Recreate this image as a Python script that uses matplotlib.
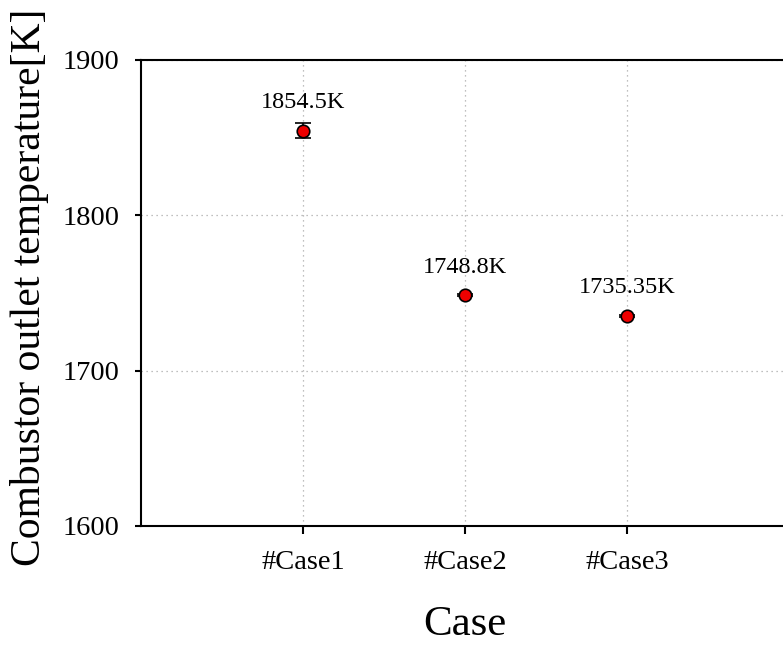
import matplotlib
matplotlib.use("Agg")
import matplotlib.pyplot as plt

cases = ["#Case1", "#Case2", "#Case3"]
temps = [1854.5, 1748.8, 1735.35]
errors = [5.0, 0.8, 0.5]
labels = ["1854.5K", "1748.8K", "1735.35K"]
yticks = [1600, 1700, 1800, 1900]

plt.rcParams["font.family"] = ["Liberation Serif", "DejaVu Serif"]

fig = plt.figure(figsize=(7.83, 6.45), dpi=100)
ax = fig.add_axes([0.180, 0.1845, 0.8276, 0.7225])

xs = list(range(1, len(cases) + 1))
ax.errorbar(xs, temps, yerr=errors, fmt="o", color="black", ecolor="black",
            elinewidth=1.2, capsize=5.5, capthick=1.2,
            markerfacecolor="#ee0000", markeredgecolor="black",
            markeredgewidth=1.2, markersize=9, zorder=3)

for x, t, lab in zip(xs, temps, labels):
    ax.annotate(lab, (x, t), xytext=(0, 20), textcoords="offset points",
                ha="center", va="center", fontsize=17.5)

ax.set_xlim(0, 4)
ax.set_ylim(1600, 1900)
ax.set_xticks(xs)
ax.set_xticklabels(cases)
ax.set_yticks(yticks)

ax.grid(True, linestyle=(0, (1, 3)), color="#aaaaaa", linewidth=0.9)
ax.set_axisbelow(True)

for s in ax.spines.values():
    s.set_linewidth(1.5)

ax.tick_params(axis="x", direction="out", length=6, width=1.5, pad=11, labelsize=20.5)
ax.tick_params(axis="y", direction="out", length=4.5, width=1.5, pad=11, labelsize=20.5)

ax.set_xlabel("Case", fontsize=31, labelpad=22)
ax.set_ylabel("Combustor outlet temperature[K]", fontsize=30, labelpad=10)
ax.yaxis.label.set_y(0.513)

fig.savefig("out.png", dpi=100)
